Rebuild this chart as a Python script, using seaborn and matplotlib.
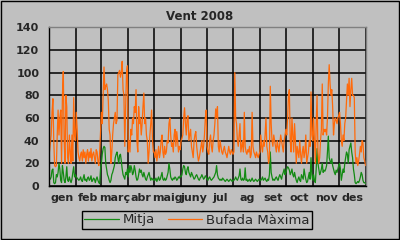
import numpy as np
import pandas as pd
import matplotlib
matplotlib.use("Agg")
import matplotlib.pyplot as plt
import seaborn as sns

title = "Vent 2008"
months = ["gen", "feb", "març", "abr", "maig", "juny", "jul", "ag", "set", "oct", "nov", "des"]
month_days = [31, 29, 31, 30, 31, 30, 31, 31, 30, 31, 30, 31]
series_names = ["Mitja", "Bufada Màxima"]
yticks = [0, 20, 40, 60, 80, 100, 120, 140]

# Bufada Màxima (daily max gust), per month
max_jan = [30, 38, 45, 65, 77, 40, 18, 17, 18, 45, 67, 45, 60, 67, 20, 80, 101, 40, 20, 80, 70, 25, 20, 45, 30, 20, 45, 22, 78, 45, 40]
max_feb = [65, 50, 30, 25, 22, 28, 30, 22, 32, 25, 30, 20, 28, 32, 22, 30, 25, 33, 22, 28, 30, 25, 20, 32, 30, 22, 18, 30, 48]
max_mar = [65, 55, 80, 105, 85, 88, 90, 85, 75, 50, 45, 20, 30, 45, 55, 60, 65, 55, 58, 98, 100, 102, 96, 100, 110, 85, 80, 35, 70, 100, 106]
max_apr = [30, 40, 30, 50, 45, 60, 55, 70, 65, 85, 40, 30, 70, 55, 60, 45, 55, 70, 82, 55, 60, 45, 40, 20, 30, 45, 55, 67, 40, 30]
max_may = [30, 25, 32, 22, 28, 35, 25, 30, 40, 45, 30, 25, 35, 28, 30, 40, 38, 55, 60, 45, 35, 38, 30, 45, 50, 35, 48, 40, 30, 35, 32]
max_jun = [40, 42, 45, 60, 69, 55, 45, 60, 62, 40, 45, 50, 35, 30, 25, 40, 45, 48, 35, 28, 22, 25, 30, 35, 40, 30, 35, 45, 60, 67]
max_jul = [35, 30, 28, 40, 45, 35, 30, 40, 45, 55, 68, 60, 70, 35, 30, 40, 35, 30, 28, 32, 35, 30, 28, 25, 30, 35, 30, 28, 32, 30, 28]
max_aug = [30, 100, 60, 55, 40, 35, 45, 55, 30, 35, 40, 30, 65, 35, 30, 28, 32, 30, 35, 25, 28, 65, 35, 30, 28, 25, 30, 27, 25, 28, 30]
max_sep = [45, 35, 30, 40, 35, 45, 60, 35, 30, 20, 25, 88, 55, 40, 35, 45, 40, 35, 30, 40, 35, 30, 38, 45, 40, 35, 30, 40, 45, 50]
max_oct = [45, 60, 80, 85, 40, 30, 60, 45, 30, 55, 40, 20, 35, 30, 25, 40, 28, 20, 30, 35, 25, 30, 45, 20, 25, 30, 40, 35, 83, 45, 40]
max_nov = [60, 40, 20, 55, 80, 30, 20, 25, 40, 50, 90, 45, 50, 48, 50, 45, 60, 90, 107, 90, 80, 85, 70, 45, 55, 60, 58, 55, 60, 62]
max_dec = [65, 55, 40, 35, 45, 40, 55, 60, 75, 90, 80, 95, 70, 85, 95, 80, 80, 78, 30, 20, 25, 18, 22, 28, 35, 30, 40, 38, 25, 22, 18]

# Mitja (daily mean), per month
avg_jan = [7, 6, 8, 14, 15, 3, 2, 3, 10, 8, 12, 20, 15, 5, 3, 18, 12, 5, 3, 8, 17, 5, 4, 8, 5, 3, 6, 12, 17, 8, 10]
avg_feb = [8, 7, 6, 5, 6, 8, 5, 4, 7, 10, 5, 6, 4, 7, 8, 5, 6, 9, 4, 5, 7, 6, 3, 6, 8, 5, 3, 2, 15]
avg_mar = [20, 28, 33, 35, 34, 20, 15, 10, 8, 5, 3, 5, 10, 12, 15, 18, 25, 28, 30, 25, 20, 27, 28, 22, 15, 10, 8, 6, 12, 10, 15]
avg_apr = [8, 18, 12, 18, 15, 10, 12, 18, 14, 8, 5, 6, 10, 15, 12, 14, 10, 8, 12, 9, 6, 5, 8, 10, 12, 8, 5, 7, 6, 5]
avg_may = [6, 5, 7, 4, 6, 8, 5, 6, 9, 12, 6, 5, 7, 5, 6, 9, 12, 20, 15, 8, 6, 5, 7, 6, 8, 7, 5, 6, 8, 7, 9]
avg_jun = [8, 10, 15, 18, 17, 12, 10, 15, 17, 12, 10, 8, 12, 10, 8, 6, 7, 9, 10, 8, 6, 5, 7, 8, 10, 8, 6, 7, 9, 8]
avg_jul = [6, 5, 7, 8, 6, 5, 6, 7, 8, 10, 12, 18, 10, 7, 6, 5, 6, 5, 7, 6, 5, 4, 5, 6, 5, 4, 5, 6, 5, 4, 5]
avg_aug = [5, 6, 8, 6, 5, 7, 9, 15, 6, 5, 7, 5, 6, 16, 5, 6, 4, 5, 6, 4, 5, 7, 5, 4, 5, 6, 5, 4, 5, 6, 5]
avg_sep = [5, 6, 8, 5, 6, 7, 5, 4, 6, 5, 10, 30, 12, 8, 5, 6, 5, 7, 8, 6, 5, 8, 10, 8, 6, 10, 12, 15, 10, 12]
avg_oct = [15, 17, 16, 14, 10, 12, 15, 10, 8, 12, 8, 5, 3, 6, 8, 5, 4, 10, 8, 6, 15, 10, 6, 3, 4, 8, 12, 6, 25, 10, 5]
avg_nov = [10, 5, 3, 15, 33, 20, 15, 10, 12, 15, 20, 12, 14, 13, 15, 18, 30, 44, 25, 22, 20, 24, 18, 15, 12, 10, 14, 12, 15, 18]
avg_dec = [20, 15, 5, 10, 15, 12, 20, 25, 30, 28, 20, 32, 35, 38, 30, 25, 15, 10, 3, 2, 3, 4, 3, 5, 8, 12, 10, 5, 3, 3, 2]

max_all = [max_jan, max_feb, max_mar, max_apr, max_may, max_jun, max_jul, max_aug, max_sep, max_oct, max_nov, max_dec]
avg_all = [avg_jan, avg_feb, avg_mar, avg_apr, avg_may, avg_jun, avg_jul, avg_aug, avg_sep, avg_oct, avg_nov, avg_dec]

gust = sum(max_all, [])
mean = sum(avg_all, [])
days = np.arange(len(gust)) + 0.5

df = pd.DataFrame({
    "day": np.concatenate([days, days]),
    "value": mean + gust,
    "series": [series_names[0]] * len(mean) + [series_names[1]] * len(gust),
})

sns.set_style("white")
plt.rcParams["font.family"] = ["DejaVu Sans"]

bg = "#c0c0c0"
fig = plt.figure(figsize=(4, 2.4), dpi=100, facecolor=bg)
ax = fig.add_axes([49 / 400, 1 - 186 / 240, 317 / 400, (186 - 27.3) / 240])
ax.set_facecolor(bg)

sns.lineplot(data=df, x="day", y="value", hue="series",
             palette={series_names[0]: "#138a13", series_names[1]: "#ff6a0a"},
             linewidth=0.9, ax=ax, legend=True, estimator=None)

bounds = np.concatenate([[0], np.cumsum(month_days)])
centers = (bounds[:-1] + bounds[1:]) / 2
ax.set_xlim(0, bounds[-1])
ax.set_ylim(0, 140)
ax.set_xticks(bounds)
ax.set_xticklabels([])
ax.set_xticks(centers, minor=True)
ax.set_xticklabels(months, minor=True, fontsize=8, fontweight="bold")
ax.tick_params(axis="x", which="major", length=3, width=1, color="black", direction="out")
ax.tick_params(axis="x", which="minor", length=0, pad=5)
ax.set_yticks(yticks)
ax.set_yticklabels([str(v) for v in yticks], fontsize=8, fontweight="bold")
ax.tick_params(axis="y", length=3, width=1, color="black", direction="out", pad=4)
ax.grid(True, which="major", color="black", linewidth=1.1)
ax.set_axisbelow(True)
ax.set_xlabel("")
ax.set_ylabel("")
for side in ["left", "bottom"]:
    ax.spines[side].set_color("black")
    ax.spines[side].set_linewidth(1)
for side in ["top", "right"]:
    ax.spines[side].set_color("#808080")
    ax.spines[side].set_linewidth(1)

fig.text(200 / 400, 1 - 16 / 240, title, ha="center", va="center", fontsize=8.5, fontweight="bold")

handles, labels = ax.get_legend_handles_labels()
leg = ax.legend(handles, labels, ncol=2, loc="center", bbox_to_anchor=(197 / 400, 1 - 220 / 240),
                bbox_transform=fig.transFigure, frameon=True, fancybox=False, fontsize=9.5,
                handlelength=2.6, handletextpad=0.3, columnspacing=1.0, borderpad=0.2,
                edgecolor="black", facecolor=bg, framealpha=1)
leg.get_frame().set_linewidth(1)

fig.patches.append(plt.Rectangle((0.002, 0.003), 0.995, 0.993, transform=fig.transFigure,
                                 fill=False, edgecolor="black", linewidth=1))

fig.savefig("out.png", dpi=100, facecolor=bg)
